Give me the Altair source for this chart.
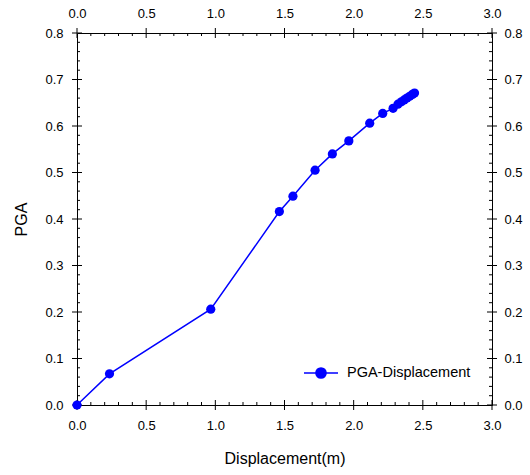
import altair as alt
import pandas as pd

# Data
displacement = [0.0, 0.235, 0.967, 1.463, 1.561, 1.721, 1.846, 1.965, 2.116,
                2.210, 2.285, 2.320, 2.345, 2.365, 2.385, 2.405, 2.425, 2.440]
pga = [0.0, 0.067, 0.206, 0.416, 0.449, 0.505, 0.540, 0.568, 0.606,
       0.627, 0.638, 0.647, 0.652, 0.656, 0.660, 0.664, 0.668, 0.671]
series_name = "PGA-Displacement"

x_major = [0.0, 0.5, 1.0, 1.5, 2.0, 2.5, 3.0]
y_major = [0.0, 0.1, 0.2, 0.3, 0.4, 0.5, 0.6, 0.7, 0.8]
x_minor = [round(i * 0.1, 2) for i in range(31) if i % 5 != 0]
y_minor = [round(i * 0.02, 3) for i in range(41) if i % 5 != 0]

W, H = 415, 372
FONT = "Liberation Sans"
BLUE = "#0000FF"

df = pd.DataFrame({"x": displacement, "y": pga, "s": [series_name] * len(pga)})
xmaj = pd.DataFrame({"v": x_major})
xmin = pd.DataFrame({"v": x_minor})
ymaj = pd.DataFrame({"v": y_major})
ymin = pd.DataFrame({"v": y_minor})

xs = alt.Scale(domain=[0, 3], nice=False, zero=False)
ys = alt.Scale(domain=[0, 0.8], nice=False, zero=False)

def ax(orient, title="", pad=14, tpad=4):
    return alt.Axis(orient=orient, values=x_major if orient in ("top", "bottom") else y_major,
                    format=".1f", ticks=False, grid=False, domain=True,
                    domainColor="black", domainWidth=1, labelFlush=False,
                    labelOverlap=False,
                    labelPadding=pad, labelFontSize=13, labelFont=FONT,
                    labelColor="black", title=title, titleFont=FONT,
                    titlePadding=tpad,
                    titleFontSize=16, titleFontWeight="normal", titleColor="black")

legend_path = ("M-1,0H1 M0.3,0 A0.3,0.3 0 1,1 -0.3,0 A0.3,0.3 0 1,1 0.3,0 Z")

line = alt.Chart(df).mark_line(strokeWidth=1.5).encode(
    x=alt.X("x:Q", scale=xs, axis=ax("bottom", "Displacement(m)", pad=14, tpad=18)),
    y=alt.Y("y:Q", scale=ys, axis=ax("left", "PGA", pad=14, tpad=15)),
    color=alt.Color("s:N", scale=alt.Scale(range=[BLUE]),
                    legend=alt.Legend(title=None, orient="none", legendX=226, legendY=322,
                                      symbolType=legend_path, symbolSize=1156,
                                      symbolFillColor=BLUE, symbolStrokeColor=BLUE,
                                      symbolStrokeWidth=1.5, labelFont=FONT,
                                      labelFontSize=14.5, labelColor="black", padding=0,
                                      labelOffset=8)),
)
pts = alt.Chart(df).mark_point(filled=True, size=85, opacity=1).encode(
    x=alt.X("x:Q", scale=xs, axis=None),
    y=alt.Y("y:Q", scale=ys, axis=None),
    color=alt.Color("s:N", scale=alt.Scale(range=[BLUE]), legend=None),
)

def xrule(data, y1, y2, axis=None):
    return alt.Chart(data).mark_rule(color="black", strokeWidth=1).encode(
        x=alt.X("v:Q", scale=xs, axis=axis), y=alt.value(y1), y2=alt.value(y2))

def yrule(data, x1, x2, axis=None):
    return alt.Chart(data).mark_rule(color="black", strokeWidth=1).encode(
        y=alt.Y("v:Q", scale=ys, axis=axis), x=alt.value(x1), x2=alt.value(x2))

layers = [
    xrule(xmaj, -5, 5, axis=ax("top", pad=13)),
    xrule(xmin, 0, 3),
    xrule(xmaj, H - 5, H + 5),
    xrule(xmin, H - 3, H),
    yrule(ymaj, W - 5, W + 5, axis=ax("right", pad=12)),
    yrule(ymin, W - 3, W),
    yrule(ymaj, -5, 5),
    yrule(ymin, 0, 3),
    line,
    pts,
]

chart = alt.layer(*layers).resolve_axis(x="independent", y="independent").properties(
    width=W, height=H,
    autosize=alt.AutoSizeParams(type="none"),
    padding={"left": 77, "top": 33, "right": 38, "bottom": 70},
).configure_view(stroke=None).configure(background="white")

chart.save("out.html", embed_options={"renderer": "svg", "actions": False})
